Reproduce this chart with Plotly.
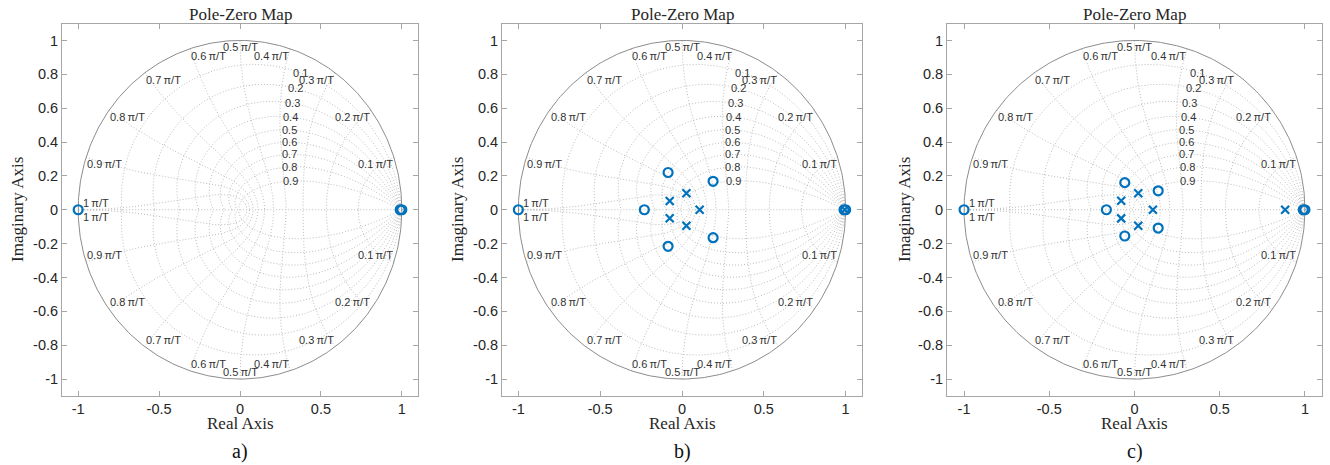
import numpy as np
import plotly.graph_objects as go

# ---------------- data ----------------
x_ticks = [-1, -0.5, 0, 0.5, 1]
x_tick_labels = ["-1", "-0.5", "0", "0.5", "1"]
y_ticks = [-1, -0.8, -0.6, -0.4, -0.2, 0, 0.2, 0.4, 0.6, 0.8, 1]
y_tick_labels = ["-1", "-0.8", "-0.6", "-0.4", "-0.2", "0", "0.2", "0.4", "0.6", "0.8", "1"]

damping_ratios = [0.1, 0.2, 0.3, 0.4, 0.5, 0.6, 0.7, 0.8, 0.9]
freq_multiples = [0.1, 0.2, 0.3, 0.4, 0.5, 0.6, 0.7, 0.8, 0.9, 1.0]

panel_captions = ["a)", "b)", "c)"]
panel_title = "Pole-Zero Map"

# panel a
zeros_a_re = [-1.0, 0.99, 1.0]
zeros_a_im = [0.0, 0.0, 0.0]
poles_a_re = []
poles_a_im = []

# panel b
zeros_b_re = [-1.0, -0.23, -0.085, -0.085, 0.19, 0.19, 0.99, 1.0]
zeros_b_im = [0.0, 0.0, 0.22, -0.216, 0.168, -0.165, 0.0, 0.0]
poles_b_re = [-0.075, -0.075, 0.027, 0.027, 0.108, 0.995]
poles_b_im = [0.052, -0.05, 0.097, -0.095, 0.0, 0.0]

# panel c
zeros_c_re = [-1.0, -0.165, -0.057, -0.057, 0.139, 0.139, 0.99, 1.0]
zeros_c_im = [0.0, 0.0, 0.16, -0.155, 0.112, -0.108, 0.0, 0.0]
poles_c_re = [-0.078, -0.078, 0.022, 0.022, 0.108, 0.884]
poles_c_im = [0.053, -0.051, 0.097, -0.095, 0.0, 0.0]

panels = [
    (zeros_a_re, zeros_a_im, poles_a_re, poles_a_im),
    (zeros_b_re, zeros_b_im, poles_b_re, poles_b_im),
    (zeros_c_re, zeros_c_im, poles_c_re, poles_c_im),
]

# ---------------- layout geometry ----------------
W, H = 1330, 465
x_domains = [(62, 418), (502, 862), (947, 1322)]  # pixels
y_top, y_bot = 23.5, 396
ylabel_x = [17, 457, 904]

BLUE = "#0072BD"
GRID = "#bcbcbc"
BOX = "#a6a6a6"
TXT = "#262626"
SANS = "Liberation Sans, Arial, sans-serif"
SERIF = "Liberation Serif, Times New Roman, serif"

fig = go.Figure()
annotations = []

def grid_curves():
    xs, ys = [], []
    th = np.linspace(0, np.pi, 300)
    for z in damping_ratios:
        m = z / np.sqrt(1 - z * z)
        c = np.exp(th * (-m + 1j))
        for s in (1, -1):
            xs += list(c.real) + [None]
            ys += list(s * c.imag) + [None]
    zt = np.linspace(0, 1, 200)
    for k in freq_multiples:
        wn = k * np.pi
        c = np.exp(wn * (-zt + 1j * np.sqrt(1 - zt ** 2)))
        for s in (1, -1):
            xs += list(c.real) + [None]
            ys += list(s * c.imag) + [None]
    xs += [-1, 1, None]
    ys += [0, 0, None]
    return xs, ys

gx, gy = grid_curves()
tc = np.linspace(0, 2 * np.pi, 400)

for i, (zr, zi, pr, pi_) in enumerate(panels):
    n = "" if i == 0 else str(i + 1)
    xa, ya = "x" + n, "y" + n
    fig.add_trace(go.Scatter(x=gx, y=gy, xaxis=xa, yaxis=ya, mode="lines",
                             line=dict(color=GRID, width=1, dash="1px,2px"),
                             hoverinfo="skip", showlegend=False))
    fig.add_trace(go.Scatter(x=np.cos(tc), y=np.sin(tc), xaxis=xa, yaxis=ya, mode="lines",
                             line=dict(color="#8c8c8c", width=1),
                             hoverinfo="skip", showlegend=False))
    if pr:
        fig.add_trace(go.Scatter(x=pr, y=pi_, xaxis=xa, yaxis=ya, mode="markers",
                                 marker=dict(symbol="x-thin-open", size=8, color=BLUE,
                                             line=dict(color=BLUE, width=2.2)),
                                 showlegend=False))
    fig.add_trace(go.Scatter(x=zr, y=zi, xaxis=xa, yaxis=ya, mode="markers",
                             marker=dict(symbol="circle-open", size=9, color=BLUE,
                                         line=dict(color=BLUE, width=2.2)),
                             showlegend=False))

    x0, x1 = x_domains[i]
    fig.layout["xaxis" + n] = dict(
        domain=[x0 / W, x1 / W], range=[-1.1, 1.1], anchor=ya,
        tickvals=x_ticks, ticktext=x_tick_labels, ticks="inside", ticklen=5,
        tickcolor=BOX, showline=True, linecolor=BOX, linewidth=1, mirror="ticks",
        showgrid=False, zeroline=False, tickfont=dict(family=SANS, size=14.5, color=TXT),
    )
    fig.layout["yaxis" + n] = dict(
        domain=[(H - y_bot) / H, (H - y_top) / H], range=[-1.1, 1.1], anchor=xa,
        tickvals=y_ticks, ticktext=y_tick_labels, ticks="inside", ticklen=5,
        tickcolor=BOX, showline=True, linecolor=BOX, linewidth=1, mirror="ticks",
        showgrid=False, zeroline=False, tickfont=dict(family=SANS, size=14.5, color=TXT),
    )

    cx = (x0 + x1) / 2 / W
    annotations.append(dict(text=panel_title, xref="paper", yref="paper", x=cx, y=(H - 14) / H,
                            showarrow=False, xanchor="center", yanchor="middle",
                            font=dict(family=SERIF, size=17, color=TXT)))
    annotations.append(dict(text="Real Axis", xref="paper", yref="paper", x=cx, y=(H - 423) / H,
                            showarrow=False, xanchor="center", yanchor="middle",
                            font=dict(family=SERIF, size=17, color=TXT)))
    annotations.append(dict(text=panel_captions[i], xref="paper", yref="paper", x=cx, y=(H - 451) / H,
                            showarrow=False, xanchor="center", yanchor="middle",
                            font=dict(family=SERIF, size=20, color="#111111")))
    annotations.append(dict(text="Imaginary Axis", xref="paper", yref="paper",
                            x=ylabel_x[i] / W, y=(H - 210) / H, textangle=-90,
                            showarrow=False, xanchor="center", yanchor="middle",
                            font=dict(family=SERIF, size=17, color=TXT)))

    # natural frequency labels
    for k in freq_multiples:
        ang = k * np.pi
        px, py = np.cos(ang), np.sin(ang)
        if abs(px) < 1e-9:
            xanc = "center"
        elif px > 0:
            xanc = "right"
        else:
            xanc = "left"
        lab = f"{k:g}\u2009π/T"
        for s in (1, -1):
            if k < 1:
                yanc = "top" if s > 0 else "bottom"
            else:
                yanc = "bottom" if s > 0 else "top"
            annotations.append(dict(text=lab, xref=xa, yref=ya, x=px, y=s * py,
                                    showarrow=False, xanchor=xanc, yanchor=yanc,
                                    xshift=4 if k == 1 else 0,
                                    borderpad=0,
                                    font=dict(family=SANS, size=11, color="#333333")))
    # damping labels
    wl = 0.365 * np.pi
    for z in damping_ratios:
        c = np.exp(wl * (-z + 1j * np.sqrt(1 - z * z)))
        annotations.append(dict(text=f"{z:g}", xref=xa, yref=ya, x=c.real, y=c.imag,
                                showarrow=False, xanchor="center", yanchor="middle",
                                borderpad=0,
                                font=dict(family=SANS, size=11, color="#333333")))

fig.update_layout(
    width=W, height=H, autosize=False,
    margin=dict(l=0, r=0, t=0, b=0),
    paper_bgcolor="white", plot_bgcolor="white",
    annotations=annotations, showlegend=False,
)

fig.write_html("out.html")
